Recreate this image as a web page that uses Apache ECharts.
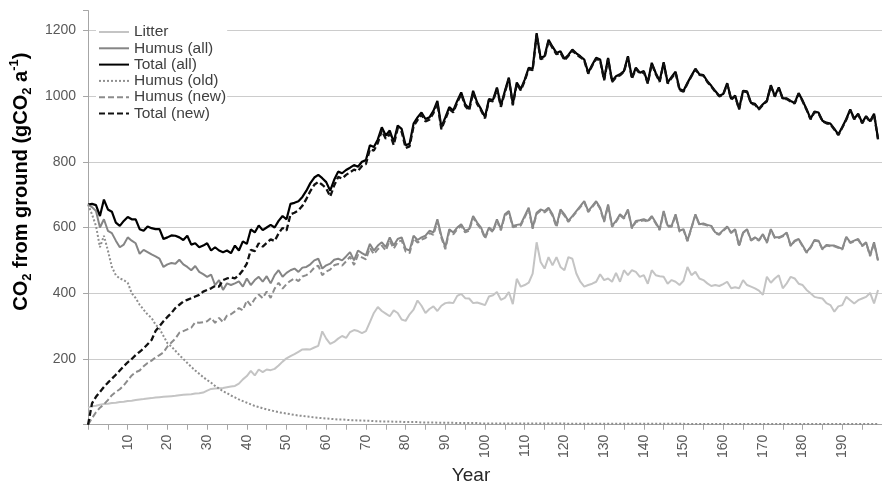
<!DOCTYPE html>
<html><head><meta charset="utf-8">
<script src="https://cdn.jsdelivr.net/npm/echarts@6/dist/echarts.min.js"></script>
<style>html,body{margin:0;padding:0;background:#fff}#c{width:882px;height:490px}</style>
</head><body><div id="c"></div>
<script>
// ---- data (one value per year, year 0..199) ----
const seriesNames = ['Litter', 'Humus (all)', 'Total (all)', 'Humus (old)', 'Humus (new)', 'Total (new)'];

const litter = [52,56,58,61,63,64,66,67,69,70,
72,73,75,77,78,80,81,83,84,85,
86,87,88,90,91,92,93,95,96,98,
104,109,110,111,112,114,116,118,125,138,
148,164,150,168,160,168,166,170,180,192,
202,209,215,222,229,230,229,235,240,284,
262,246,252,262,270,264,282,288,285,279,
285,312,340,358,346,338,330,348,340,320,
316,336,350,378,362,340,352,360,346,362,
370,372,370,392,398,385,384,370,372,368,
364,390,394,404,380,386,404,367,444,420,
425,432,460,555,495,475,510,485,510,480,
470,510,505,460,435,420,425,429,435,458,
440,445,435,462,435,470,455,470,465,450,
455,429,470,455,452,450,429,440,435,425,
438,480,455,465,445,440,430,422,425,422,
428,435,415,418,415,440,425,420,415,408,
395,450,432,445,455,415,430,450,445,429,
425,410,400,389,386,384,370,364,344,360,
364,389,379,369,379,384,389,401,369,410];

const humusAll = [670,662,650,600,625,590,583,560,540,548,
570,560,552,520,532,525,518,512,505,480,
488,492,490,502,488,480,470,483,465,458,
450,457,425,440,410,430,425,430,436,420,
445,425,440,450,435,452,430,455,470,450,
462,470,475,465,478,480,488,500,505,475,
485,490,502,505,500,512,525,500,530,522,
515,550,530,545,555,540,570,545,565,570,
535,530,575,562,570,575,590,585,625,575,
540,595,585,600,610,590,595,635,615,600,
570,600,590,625,595,640,650,605,608,610,
635,660,600,645,655,650,660,640,605,655,
640,620,635,650,665,680,650,665,680,660,
620,670,605,620,640,630,655,600,620,622,
625,620,635,615,595,650,605,605,640,590,
595,560,600,640,610,612,608,605,585,580,
592,603,585,595,545,585,595,562,570,562,
580,555,595,570,570,575,585,545,560,565,
545,525,540,562,560,535,547,545,545,540,
535,572,555,560,565,545,555,515,555,500];

const totalAll = [670,672,668,635,685,655,648,615,605,620,
632,625,625,595,590,603,598,595,595,565,
570,576,575,570,562,575,548,552,540,545,
552,530,540,530,525,530,522,545,530,558,
550,594,585,606,592,600,608,600,620,635,
625,672,675,680,693,712,735,752,760,750,
738,712,745,770,765,775,782,790,785,800,
805,850,845,868,905,880,895,860,910,900,
850,855,916,935,950,930,935,955,985,905,
935,966,956,985,1011,975,961,1016,981,960,
936,991,988,1026,971,1015,1056,976,1041,1021,
1050,1086,1083,1191,1116,1121,1171,1150,1131,1136,
1113,1125,1141,1130,1121,1111,1071,1095,1116,1111,
1051,1116,1046,1060,1066,1076,1121,1056,1086,1071,
1076,1041,1101,1070,1046,1103,1041,1058,1074,1021,
1016,1040,1062,1083,1066,1064,1045,1031,1015,1001,
1006,1039,991,1001,961,1016,1014,979,976,961,
975,986,1033,1000,1026,993,993,985,979,1009,
986,960,931,953,950,925,919,916,900,883,
906,930,959,931,946,919,939,923,946,870];

const humusOld = [670,640,605,540,575,530,480,455,445,440,
432,400,385,365,350,335,325,305,292,270,
248,238,225,212,200,188,176,165,155,145,
136,128,118,110,102,96,89,83,77,72,
67,62,57,54,50,47,44,41,38,36,
34,32,30,28,27,25,24,22,21,20,
19,18,17,16,16,15,14,14,13,13,
12,12,11,11,10,10,10,9,9,9,
8,8,8,8,7,7,7,7,6,6,
6,6,6,5,5,5,5,5,5,4,
4,4,4,4,4,4,4,4,4,4,
4,4,4,4,4,4,4,4,4,4,
4,3,3,3,3,3,3,3,3,3,
3,3,3,3,3,3,3,3,3,3,
3,3,3,3,3,3,3,3,3,3,
3,2,2,2,2,2,2,2,2,2,
2,2,2,2,2,2,2,2,2,2,
2,2,2,2,2,2,2,2,2,2,
2,2,2,2,2,2,2,2,2,2,
2,2,2,2,2,2,2,2,2,2];

const humusNew = [0,20,38,52,62,75,90,100,108,120,
135,150,160,165,178,188,195,205,212,220,
238,250,262,280,285,290,295,312,310,312,
315,325,310,325,312,332,336,345,355,348,
378,363,383,396,385,405,386,414,432,414,
428,438,445,437,451,455,464,478,484,455,
466,472,485,489,484,497,511,486,517,509,
503,538,519,534,545,530,560,536,556,561,
527,522,567,554,563,568,583,578,619,569,
534,589,579,595,605,585,590,630,610,596,
566,596,586,621,591,636,646,601,604,606,
631,656,596,641,651,646,656,636,601,651,
636,617,632,647,662,677,647,662,677,657,
617,667,602,617,637,627,652,597,617,619,
622,617,632,612,592,647,602,602,637,587,
592,558,598,638,608,610,606,603,583,578,
590,601,583,593,543,583,593,560,568,560,
578,553,593,568,568,573,583,543,558,563,
543,523,538,560,558,533,545,543,543,538,
533,570,553,558,563,543,553,513,553,498];

const totalNew = [0,65,85,100,115,128,140,152,165,178,
190,200,212,222,232,245,258,285,300,315,
328,340,355,365,375,380,385,390,395,405,
410,415,422,420,440,445,448,445,455,470,
490,532,528,552,542,553,564,559,582,599,
591,640,645,652,666,687,711,730,739,730,
719,694,728,754,749,760,768,776,772,787,
793,838,834,857,895,870,885,851,901,891,
842,847,908,927,943,923,928,948,979,899,
929,960,950,980,1006,970,956,1011,976,956,
932,987,984,1022,967,1011,1052,972,1037,1017,
1046,1082,1079,1187,1112,1117,1167,1146,1127,1132,
1109,1122,1138,1127,1118,1108,1068,1092,1113,1108,
1048,1113,1043,1057,1063,1073,1118,1053,1083,1068,
1073,1038,1098,1067,1043,1100,1038,1055,1071,1018,
1013,1038,1060,1081,1064,1062,1043,1029,1013,999,
1004,1037,989,999,959,1014,1012,977,974,959,
973,984,1031,998,1024,991,991,983,977,1007,
984,958,929,951,948,923,917,914,898,881,
904,928,957,929,944,917,937,921,944,868];

const years = litter.map((_, i) => i);
const xTickLabels = [10,20,30,40,50,60,70,80,90,100,110,120,130,140,150,160,170,180,190];
const yTickLabels = [200,400,600,800,1000,1200];

// ---- chart ----
const values = [litter, humusAll, totalAll, humusOld, humusNew, totalNew];
const styles = [
  {color:'#c4c4c4', width:2, type:'solid'},
  {color:'#858585', width:2, type:'solid'},
  {color:'#000000', width:2.2, type:'solid'},
  {color:'#8f8f8f', width:2, type:[2,2]},
  {color:'#8c8c8c', width:2, type:[6,3]},
  {color:'#111111', width:2.3, type:[6,3]}
];

const chart = echarts.init(document.getElementById('c'), null, {renderer:'canvas'});
const font = '"Liberation Sans", Arial, sans-serif';

chart.setOption({
  animation: false,
  backgroundColor: '#ffffff',
  textStyle: {fontFamily: font},
  grid: {left: 82.7, width: 800, top: 10.55, height: 418.95, containLabel: false},
  legend: {
    orient: 'vertical', left: 96, top: 23,
    padding: [1, 1, 1, 2], itemGap: 0.3,
    itemWidth: 30, itemHeight: 12,
    backgroundColor: '#ffffff',
    itemStyle: {opacity: 0},
    textStyle: {fontSize: 15.5, lineHeight: 16, color: '#404040', fontFamily: font},
    data: seriesNames
  },
  xAxis: {
    type: 'value', min: 0, max: 200, interval: 5,
    name: 'Year', nameLocation: 'middle', nameGap: 29,
    nameTextStyle: {fontSize: 19, color: '#262626', fontFamily: font, padding: [0, 28, 0, 0]},
    axisLine: {show: true, lineStyle: {color: '#a6a6a6', width: 1}},
    axisTick: {show: true, length: 5, lineStyle: {color: '#a6a6a6'}},
    axisLabel: {
      rotate: 90, margin: 10, fontSize: 14, color: '#595959',
      formatter: v => xTickLabels.includes(v) ? String(v) : ''
    },
    splitLine: {show: false}
  },
  yAxis: {
    type: 'value', min: 0, max: 1260, interval: 200,
    name: 'CO{sub|2} from ground (gCO{sub|2} a{sup|-1})',
    nameLocation: 'middle', nameGap: 40, nameRotate: 90,
    nameTextStyle: {
      fontSize: 20, fontWeight: 'bold', color: '#000', fontFamily: font, lineHeight: 26,
      padding: [0, 0, 0, 72],
      rich: {
        sub: {fontSize: 13, fontWeight: 'bold', fontFamily: font, verticalAlign: 'bottom', lineHeight: 13, color:'#000'},
        sup: {fontSize: 13, fontWeight: 'bold', fontFamily: font, verticalAlign: 'top', lineHeight: 13, color:'#000'}
      }
    },
    axisLine: {show: true, lineStyle: {color: '#a6a6a6', width: 1}},
    axisTick: {show: true, length: 5, lineStyle: {color: '#a6a6a6'}},
    axisLabel: {
      margin: 12, fontSize: 14, color: '#595959',
      formatter: v => yTickLabels.includes(v) ? String(v) : ''
    },
    splitLine: {show: true, showMinLine: false, showMaxLine: false, lineStyle: {color: '#cccccc', width: 1}}
  },
  series: seriesNames.map((n, k) => ({
    name: n, type: 'line', symbol: 'none', showSymbol: false,
    data: years.map((y, i) => [y, values[k][i]]),
    lineStyle: {color: styles[k].color, width: styles[k].width, type: styles[k].type},
    itemStyle: {color: styles[k].color},
    z: 2 + k
  }))
});
</script></body></html>
